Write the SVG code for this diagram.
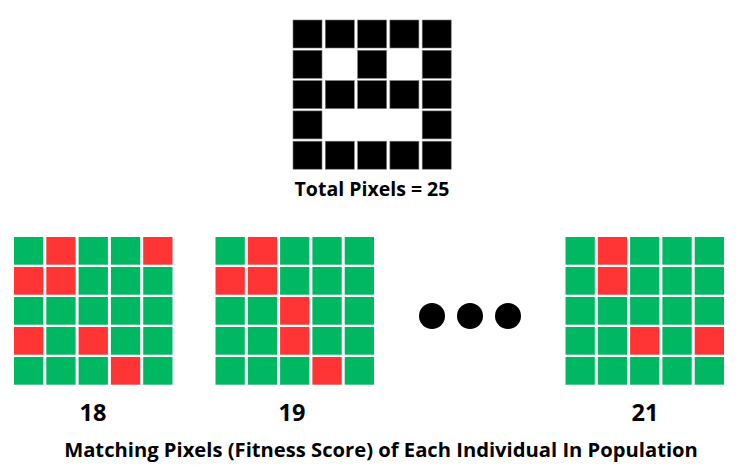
<svg xmlns="http://www.w3.org/2000/svg" width="739" height="469" viewBox="0 0 739 469">
<style>
.b{fill:#000;stroke:#777;stroke-width:0.6}
.g{fill:#00b861}
.r{fill:#ff3434}
.t{font-family:"Open Sans","Liberation Sans",sans-serif;font-weight:bold;fill:#000}
</style>
<rect width="739" height="469" fill="#fff"/>
<g id="target">
<rect class="b" x="293" y="20" width="29" height="28"/><rect class="b" x="325.3" y="20" width="29" height="28"/><rect class="b" x="357.6" y="20" width="29" height="28"/><rect class="b" x="389.9" y="20" width="29" height="28"/><rect class="b" x="422.2" y="20" width="29" height="28"/>
<rect class="b" x="293" y="50.3" width="29" height="28"/><rect class="b" x="357.6" y="50.3" width="29" height="28"/><rect class="b" x="422.2" y="50.3" width="29" height="28"/>
<rect class="b" x="293" y="80.6" width="29" height="28"/><rect class="b" x="325.3" y="80.6" width="29" height="28"/><rect class="b" x="357.6" y="80.6" width="29" height="28"/><rect class="b" x="389.9" y="80.6" width="29" height="28"/><rect class="b" x="422.2" y="80.6" width="29" height="28"/>
<rect class="b" x="293" y="110.9" width="29" height="28"/><rect class="b" x="422.2" y="110.9" width="29" height="28"/>
<rect class="b" x="293" y="141.2" width="29" height="28"/><rect class="b" x="325.3" y="141.2" width="29" height="28"/><rect class="b" x="357.6" y="141.2" width="29" height="28"/><rect class="b" x="389.9" y="141.2" width="29" height="28"/><rect class="b" x="422.2" y="141.2" width="29" height="28"/>
</g>
<text class="t" x="372" y="196" font-size="19.5" text-anchor="middle">Total Pixels = 25</text>
<g id="ind1" transform="translate(14,237)">
<rect class="g" x="0" y="0" width="29.3" height="27.7"/><rect class="r" x="32.3" y="0" width="29.3" height="27.7"/><rect class="g" x="64.6" y="0" width="29.3" height="27.7"/><rect class="g" x="96.9" y="0" width="29.3" height="27.7"/><rect class="r" x="129.2" y="0" width="29.3" height="27.7"/>
<rect class="r" x="0" y="30" width="29.3" height="27.7"/><rect class="r" x="32.3" y="30" width="29.3" height="27.7"/><rect class="g" x="64.6" y="30" width="29.3" height="27.7"/><rect class="g" x="96.9" y="30" width="29.3" height="27.7"/><rect class="g" x="129.2" y="30" width="29.3" height="27.7"/>
<rect class="g" x="0" y="60" width="29.3" height="27.7"/><rect class="g" x="32.3" y="60" width="29.3" height="27.7"/><rect class="g" x="64.6" y="60" width="29.3" height="27.7"/><rect class="g" x="96.9" y="60" width="29.3" height="27.7"/><rect class="g" x="129.2" y="60" width="29.3" height="27.7"/>
<rect class="r" x="0" y="90" width="29.3" height="27.7"/><rect class="g" x="32.3" y="90" width="29.3" height="27.7"/><rect class="r" x="64.6" y="90" width="29.3" height="27.7"/><rect class="g" x="96.9" y="90" width="29.3" height="27.7"/><rect class="g" x="129.2" y="90" width="29.3" height="27.7"/>
<rect class="g" x="0" y="120" width="29.3" height="27.7"/><rect class="g" x="32.3" y="120" width="29.3" height="27.7"/><rect class="g" x="64.6" y="120" width="29.3" height="27.7"/><rect class="r" x="96.9" y="120" width="29.3" height="27.7"/><rect class="g" x="129.2" y="120" width="29.3" height="27.7"/>
</g>
<g id="ind2" transform="translate(215.5,237)">
<rect class="g" x="0" y="0" width="29.3" height="27.7"/><rect class="r" x="32.3" y="0" width="29.3" height="27.7"/><rect class="g" x="64.6" y="0" width="29.3" height="27.7"/><rect class="g" x="96.9" y="0" width="29.3" height="27.7"/><rect class="g" x="129.2" y="0" width="29.3" height="27.7"/>
<rect class="r" x="0" y="30" width="29.3" height="27.7"/><rect class="r" x="32.3" y="30" width="29.3" height="27.7"/><rect class="g" x="64.6" y="30" width="29.3" height="27.7"/><rect class="g" x="96.9" y="30" width="29.3" height="27.7"/><rect class="g" x="129.2" y="30" width="29.3" height="27.7"/>
<rect class="g" x="0" y="60" width="29.3" height="27.7"/><rect class="g" x="32.3" y="60" width="29.3" height="27.7"/><rect class="r" x="64.6" y="60" width="29.3" height="27.7"/><rect class="g" x="96.9" y="60" width="29.3" height="27.7"/><rect class="g" x="129.2" y="60" width="29.3" height="27.7"/>
<rect class="g" x="0" y="90" width="29.3" height="27.7"/><rect class="g" x="32.3" y="90" width="29.3" height="27.7"/><rect class="r" x="64.6" y="90" width="29.3" height="27.7"/><rect class="g" x="96.9" y="90" width="29.3" height="27.7"/><rect class="g" x="129.2" y="90" width="29.3" height="27.7"/>
<rect class="g" x="0" y="120" width="29.3" height="27.7"/><rect class="g" x="32.3" y="120" width="29.3" height="27.7"/><rect class="g" x="64.6" y="120" width="29.3" height="27.7"/><rect class="r" x="96.9" y="120" width="29.3" height="27.7"/><rect class="g" x="129.2" y="120" width="29.3" height="27.7"/>
</g>
<g id="ind3" transform="translate(565.5,237)">
<rect class="g" x="0" y="0" width="29.3" height="27.7"/><rect class="r" x="32.3" y="0" width="29.3" height="27.7"/><rect class="g" x="64.6" y="0" width="29.3" height="27.7"/><rect class="g" x="96.9" y="0" width="29.3" height="27.7"/><rect class="g" x="129.2" y="0" width="29.3" height="27.7"/>
<rect class="g" x="0" y="30" width="29.3" height="27.7"/><rect class="r" x="32.3" y="30" width="29.3" height="27.7"/><rect class="g" x="64.6" y="30" width="29.3" height="27.7"/><rect class="g" x="96.9" y="30" width="29.3" height="27.7"/><rect class="g" x="129.2" y="30" width="29.3" height="27.7"/>
<rect class="g" x="0" y="60" width="29.3" height="27.7"/><rect class="g" x="32.3" y="60" width="29.3" height="27.7"/><rect class="g" x="64.6" y="60" width="29.3" height="27.7"/><rect class="g" x="96.9" y="60" width="29.3" height="27.7"/><rect class="g" x="129.2" y="60" width="29.3" height="27.7"/>
<rect class="g" x="0" y="90" width="29.3" height="27.7"/><rect class="g" x="32.3" y="90" width="29.3" height="27.7"/><rect class="r" x="64.6" y="90" width="29.3" height="27.7"/><rect class="g" x="96.9" y="90" width="29.3" height="27.7"/><rect class="r" x="129.2" y="90" width="29.3" height="27.7"/>
<rect class="g" x="0" y="120" width="29.3" height="27.7"/><rect class="g" x="32.3" y="120" width="29.3" height="27.7"/><rect class="g" x="64.6" y="120" width="29.3" height="27.7"/><rect class="g" x="96.9" y="120" width="29.3" height="27.7"/><rect class="g" x="129.2" y="120" width="29.3" height="27.7"/>
</g>
<g id="ellipsis">
<circle cx="432" cy="316" r="13"/><circle cx="470" cy="316" r="13"/><circle cx="508" cy="316" r="13"/>
</g>
<g id="connectors"/>
<text class="t" x="93" y="421" font-size="23.5" text-anchor="middle">18</text>
<text class="t" x="292" y="421" font-size="23.5" text-anchor="middle">19</text>
<text class="t" x="645" y="421" font-size="23.5" text-anchor="middle">21</text>
<text class="t" x="381" y="457" font-size="20.2" text-anchor="middle">Matching Pixels (Fitness Score) of Each Individual In Population</text>
</svg>
